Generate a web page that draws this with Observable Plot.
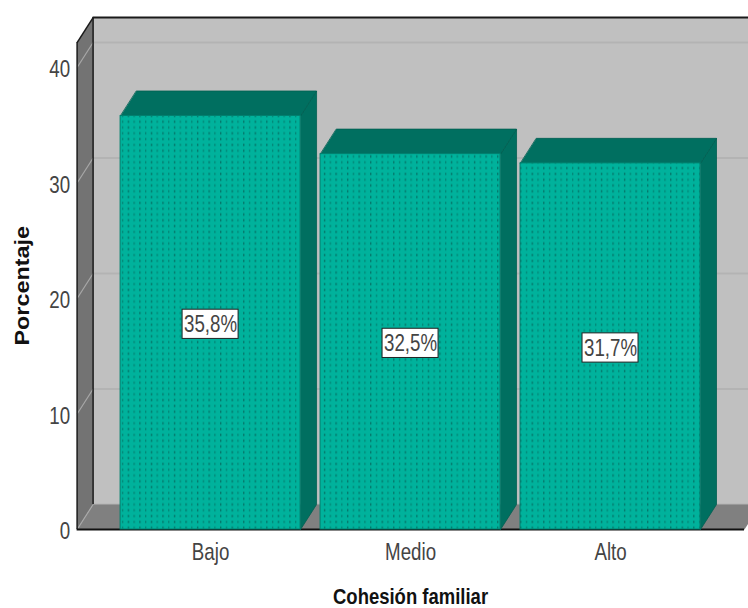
<!DOCTYPE html>
<html>
<head>
<meta charset="utf-8">
<script src="https://cdn.jsdelivr.net/npm/d3@7"></script>
<script src="https://cdn.jsdelivr.net/npm/@observablehq/plot@0.6"></script>
<style>
html,body{margin:0;padding:0;background:#fff;overflow:hidden}
svg{display:block}
</style>
</head>
<body>
<div id="chart"></div>
<script>
const categories = ["Bajo", "Medio", "Alto"];
const positions = [0, 1, 2];
const values = [35.8, 32.5, 31.7];
const valueLabels = ["35,8%", "32,5%", "31,7%"];
const yTicks = [0, 10, 20, 30, 40];
const xLabel = "Cohesión familiar";
const yLabel = "Porcentaje";

const barHalf = 0.45, depthX = 0.08, depthY = 2.165;
const xStart = -0.6675, xFront = 2.67, xEnd = 2.74, yTop = 42.16, yMax = 45.8;
const FONT = "'Liberation Sans',Arial,sans-serif";

const poly = (id, pts) => pts.map(([x, y]) => ({id, x, y}));
const wall = poly("wall", [[xStart+depthX,depthY],[xEnd+depthX,depthY],[xEnd+depthX,yTop+depthY],[xStart+depthX,yTop+depthY]]);
const leftWall = poly("left", [[xStart,0],[xStart+depthX,depthY],[xStart+depthX,yTop+depthY],[xStart,yTop]]);
const floor = poly("floor", [[xStart,0],[xFront,0],[xFront+depthX,depthY],[xStart+depthX,depthY]]);
const barData = positions.map((p, i) => ({p, v: values[i], label: valueLabels[i]}));
const tops = barData.flatMap(b => poly("t"+b.p, [[b.p-barHalf,b.v],[b.p+barHalf,b.v],[b.p+barHalf+depthX,b.v+depthY],[b.p-barHalf+depthX,b.v+depthY]]));
const sides = barData.flatMap(b => poly("s"+b.p, [[b.p+barHalf,0],[b.p+barHalf+depthX,depthY],[b.p+barHalf+depthX,b.v+depthY],[b.p+barHalf,b.v]]));

const defs = () => {
  const g = d3.create("svg:g");
  const pat = g.append("defs").append("pattern")
    .attr("id", "dots").attr("patternUnits", "userSpaceOnUse")
    .attr("width", 11.54).attr("height", 5.8).attr("x", 120).attr("y", 113);
  pat.append("rect").attr("width", 11.54).attr("height", 5.8).attr("fill", "#00b29c");
  pat.append("rect").attr("x", 2).attr("y", 1.6).attr("width", 1.2).attr("height", 2.6).attr("fill", "#046b60").attr("opacity", 0.65);
  pat.append("rect").attr("x", 7.8).attr("y", 1.6).attr("width", 1.2).attr("height", 2.6).attr("fill", "#046b60").attr("opacity", 0.9);
  return g.node();
};

const chart = Plot.plot({
  width: 748, height: 608,
  marginLeft: 76.6, marginRight: 0, marginTop: 0, marginBottom: 79,
  style: {background: "#fff", overflow: "hidden"},
  x: {type: "linear", domain: [xStart, 2.69], range: [76.6, 748]},
  y: {type: "linear", domain: [0, yMax], range: [529, 0]},
  marks: [
    defs,
    Plot.line(wall, {x: "x", y: "y", curve: "linear-closed", fill: "#c0c0c0", stroke: "none"}),
    Plot.ruleY(yTicks, {x1: xStart+depthX, x2: xEnd+depthX, y: d => d + depthY, stroke: "#b3b3b3", strokeWidth: 2}),
    Plot.line(leftWall, {x: "x", y: "y", curve: "linear-closed", fill: "#737373", stroke: "none"}),
    Plot.line(floor, {x: "x", y: "y", curve: "linear-closed", fill: "#808080", stroke: "none"}),
    Plot.link(yTicks, {x1: xStart, y1: d => d, x2: xStart+depthX, y2: d => d + depthY, stroke: "#a8a8a8", strokeWidth: 1.2}),
    Plot.ruleX([xStart+depthX], {y1: depthY, y2: yTop+depthY, stroke: "#1a1a1a", strokeWidth: 1.5}),
    Plot.ruleX([xStart], {y1: 0, y2: yTop, stroke: "#1a1a1a", strokeWidth: 1.5}),
    Plot.link([0], {x1: xStart, y1: yTop, x2: xStart+depthX, y2: yTop+depthY, stroke: "#1a1a1a", strokeWidth: 1.5}),
    Plot.ruleY([yTop+depthY], {x1: xStart+depthX, x2: xEnd+depthX, stroke: "#1a1a1a", strokeWidth: 2}),
    Plot.ruleY([0], {x1: xStart, x2: xFront, stroke: "#111", strokeWidth: 2}),
    Plot.line(sides, {x: "x", y: "y", z: "id", curve: "linear-closed", fill: "#006f60", stroke: "#005f52", strokeWidth: 0.8}),
    Plot.line(tops, {x: "x", y: "y", z: "id", curve: "linear-closed", fill: "#006f60", stroke: "#005f52", strokeWidth: 0.8}),
    Plot.rect(barData, {x1: d => d.p-barHalf, x2: d => d.p+barHalf, y1: 0, y2: "v", fill: "url(#dots)", stroke: "#00806f", strokeWidth: 1}),
    Plot.rect(barData, {x1: d => d.p-0.14, x2: d => d.p+0.14, y1: d => d.v/2-1.4, y2: d => d.v/2+1.13, fill: "#fff", stroke: "#222", strokeWidth: 1}),
    Plot.text(barData, {x: "p", y: d => d.v/2, dy: 1.5, text: "label", fontSize: 24, fontFamily: FONT, fill: "#444", className: "narrow"}),
    Plot.axisY({ticks: yTicks, tickSize: 0, tickPadding: 7, dy: 2, fontSize: 24, fontFamily: FONT, label: null, fill: "#444", anchor: "left", className: "narrow"}),
    Plot.axisX({ticks: positions, tickFormat: d => categories[d], tickSize: 0, tickPadding: 13, fontSize: 24, fontFamily: FONT, label: null, fill: "#444", anchor: "bottom", className: "narrow"}),
    Plot.text([xLabel], {x: 1, y: -5.85, text: d => d, fontSize: 21.5, fontWeight: "bold", fontFamily: FONT, fill: "#111", className: "narrowb"}),
    Plot.text([yLabel], {x: -0.94, y: 21.1, text: d => d, rotate: -90, fontSize: 20.5, fontWeight: "bold", fontFamily: FONT, fill: "#111", className: "wide"})
  ]
});
const stretch = (sel, sx) => chart.querySelectorAll(sel).forEach(t => {
  t.setAttribute("transform", (t.getAttribute("transform") || "") + ` scale(${sx},1)`);
});
stretch(".narrow text", 0.78);
stretch(".narrowb text", 0.86);
stretch(".wide text", 1.14);
document.getElementById("chart").appendChild(chart);
</script>
</body>
</html>
